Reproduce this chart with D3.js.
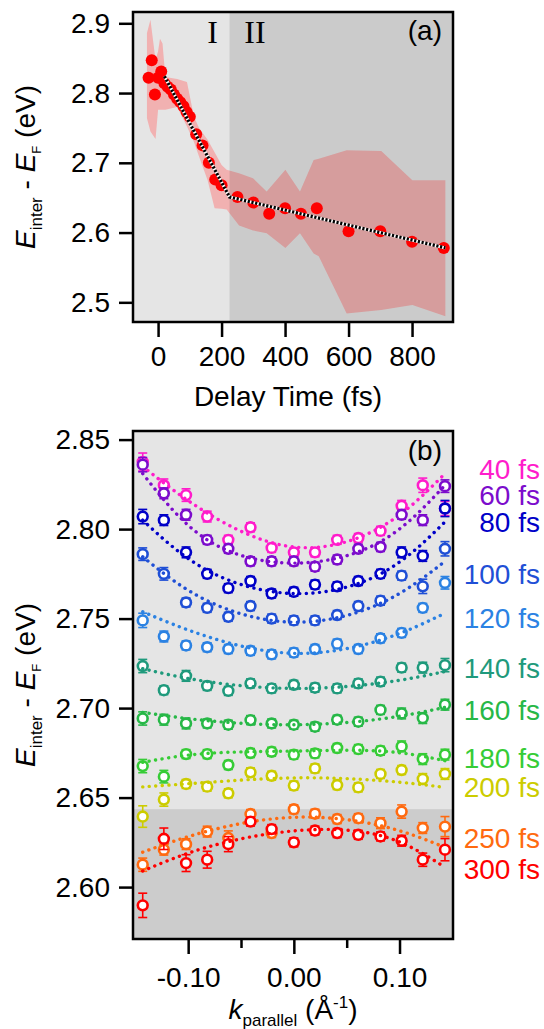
<!DOCTYPE html>
<html>
<head>
<meta charset="utf-8">
<script src="https://cdn.jsdelivr.net/npm/d3@7"></script>
<style>
  html, body { margin: 0; padding: 0; background: #fff; }
  svg { display: block; font-family: "Liberation Sans", Arial, sans-serif; }
</style>
</head>
<body>
<svg id="chart" width="544" height="1029"></svg>
<script>
// ---- panel (a) data ----
const delayT = [-30, -20, -10, 0, 10, 20, 30, 40, 50, 60, 70, 80, 90, 100, 120, 140, 160, 180, 200, 250, 300, 350, 400, 450, 500, 600, 700, 800, 900]
const delayE = [2.822, 2.847, 2.798, 2.822, 2.831, 2.814, 2.809, 2.805, 2.798, 2.792, 2.787, 2.781, 2.773, 2.766, 2.741, 2.725, 2.700, 2.676, 2.668, 2.651, 2.643, 2.627, 2.635, 2.627, 2.635, 2.602, 2.602, 2.587, 2.578]

const bandT  = [-35, -24, -8, 0, 6, 14, 23, 60, 91, 113, 129, 156, 178, 200, 216, 255, 299, 342, 401, 447, 490, 506, 594, 703, 801, 905]
const bandHi = [2.886, 2.905, 2.847, 2.860, 2.878, 2.871, 2.823, 2.820, 2.816, 2.766, 2.750, 2.733, 2.715, 2.697, 2.690, 2.685, 2.678, 2.659, 2.690, 2.659, 2.704, 2.706, 2.718, 2.717, 2.675, 2.675]
const bandLo = [2.764, 2.745, 2.734, 2.776, 2.776, 2.776, 2.776, 2.780, 2.752, 2.730, 2.709, 2.675, 2.635, 2.634, 2.633, 2.610, 2.603, 2.599, 2.578, 2.599, 2.570, 2.566, 2.484, 2.489, 2.496, 2.480]

const fitT = [20, 225, 905]
const fitE = [2.824, 2.651, 2.578]

const regionSplit = 225
const ticksA_x = [0, 200, 400, 600, 800]
const ticksA_y = [2.5, 2.6, 2.7, 2.8, 2.9]

// ---- panel (b) data ----
const kPar = [-0.143, -0.123, -0.102, -0.082, -0.062, -0.041, -0.021, 0.000, 0.020, 0.041, 0.061, 0.082, 0.102, 0.122, 0.143]
const kFit = [-0.143, -0.082, 0, 0.082, 0.143]

const seriesNames = ['40 fs', '60 fs', '80 fs', '100 fs', '120 fs', '140 fs', '160 fs', '180 fs', '200 fs', '250 fs', '300 fs']
const seriesColors = ['#ff1ccb', '#7c0ccc', '#0000c8', '#1f4fd6', '#2b82e3', '#1f9a7c', '#27b847', '#36cc36', '#cccc00', '#ff6a10', '#ff0000']

const e40  = [2.8375, 2.8245, 2.819, 2.807, 2.794, 2.801, 2.7895, 2.787, 2.787, 2.794, 2.795, 2.799, 2.813, 2.8245, 2.8115]
const e60  = [2.836, 2.820, 2.808, 2.794, 2.789, 2.782, 2.782, 2.782, 2.779, 2.783, 2.789, 2.790, 2.808, 2.805, 2.824]
const e80  = [2.807, 2.805, 2.787, 2.775, 2.767, 2.771, 2.764, 2.765, 2.769, 2.768, 2.771, 2.775, 2.787, 2.785, 2.8115]
const e100 = [2.786, 2.775, 2.759, 2.756, 2.751, 2.757, 2.750, 2.749, 2.749, 2.752, 2.757, 2.760, 2.774, 2.768, 2.789]
const e120 = [2.749, 2.740, 2.735, 2.734, 2.733, 2.732, 2.730, 2.731, 2.733, 2.736, 2.733, 2.739, 2.742, 2.756, 2.770]
const e140 = [2.7235, 2.710, 2.718, 2.7124, 2.7096, 2.7138, 2.711, 2.713, 2.7114, 2.711, 2.7138, 2.7148, 2.7226, 2.7226, 2.724]
const e160 = [2.6942, 2.6935, 2.6914, 2.6914, 2.6907, 2.6933, 2.6914, 2.6907, 2.6896, 2.6935, 2.6924, 2.699, 2.697, 2.6944, 2.7019]
const e180 = [2.6676, 2.6617, 2.6743, 2.6743, 2.6682, 2.6749, 2.6756, 2.674, 2.6747, 2.6777, 2.6771, 2.6762, 2.6786, 2.6715, 2.674]
const e200 = [2.6394, 2.6489, 2.6576, 2.6561, 2.6524, 2.6641, 2.6622, 2.6567, 2.6663, 2.657, 2.6557, 2.6632, 2.6654, 2.6604, 2.6632]
const e250 = [2.6125, 2.6209, 2.624, 2.631, 2.6274, 2.6408, 2.6302, 2.6435, 2.641, 2.638, 2.6385, 2.6357, 2.6422, 2.633, 2.6338]
const e300 = [2.5898, 2.627, 2.6134, 2.6153, 2.624, 2.6366, 2.6324, 2.625, 2.6316, 2.6302, 2.6292, 2.6283, 2.6259, 2.6153, 2.6209]

const err40  = [0.005, 0.0035, 0.0035, 0.003, 0.0025, 0.0025, 0.0025, 0.0025, 0.0025, 0.0025, 0.0025, 0.0025, 0.003, 0.004, 0.004]
const err60  = [0.004, 0.003, 0.003, 0.0025, 0.0025, 0.0025, 0.0025, 0.0025, 0.0025, 0.0025, 0.0025, 0.0025, 0.0025, 0.003, 0.0035]
const err80  = [0.004, 0.003, 0.003, 0.0025, 0.0025, 0.0025, 0.0025, 0.0025, 0.0025, 0.0025, 0.0025, 0.0025, 0.003, 0.003, 0.0045]
const err100 = [0.0035, 0.0035, 0.0025, 0.0025, 0.0025, 0.0025, 0.0025, 0.0025, 0.0025, 0.0025, 0.0025, 0.0025, 0.0025, 0.004, 0.004]
const err120 = [0.004, 0.003, 0.0025, 0.0025, 0.0025, 0.0025, 0.0025, 0.0025, 0.0025, 0.0025, 0.0025, 0.0025, 0.0025, 0.0025, 0.0035]
const err140 = [0.0037, 0.0025, 0.003, 0.0025, 0.0025, 0.0025, 0.0025, 0.0025, 0.0025, 0.0025, 0.0025, 0.0025, 0.0025, 0.003, 0.0037]
const err160 = [0.0037, 0.003, 0.003, 0.0025, 0.0025, 0.0025, 0.0025, 0.0025, 0.0025, 0.0025, 0.0025, 0.0025, 0.003, 0.003, 0.003]
const err180 = [0.0037, 0.0035, 0.0025, 0.0025, 0.0025, 0.0025, 0.0025, 0.0025, 0.0025, 0.0025, 0.0025, 0.0025, 0.003, 0.003, 0.003]
const err200 = [0.006, 0.0037, 0.0025, 0.0025, 0.0025, 0.0025, 0.0025, 0.0025, 0.0025, 0.0025, 0.0025, 0.0025, 0.0025, 0.003, 0.003]
const err250 = [0.0037, 0.003, 0.003, 0.003, 0.004, 0.0025, 0.0025, 0.0025, 0.0025, 0.0025, 0.0025, 0.003, 0.0037, 0.003, 0.0056]
const err300 = [0.0068, 0.006, 0.0047, 0.0047, 0.0042, 0.0025, 0.0025, 0.0025, 0.0025, 0.0025, 0.0025, 0.0025, 0.003, 0.0037, 0.0062]

const f40  = [2.835, 2.809, 2.790, 2.801, 2.831]
const f60  = [2.831, 2.794, 2.781, 2.793, 2.8245]
const f80  = [2.805, 2.777, 2.764, 2.775, 2.804]
const f100 = [2.7845, 2.760, 2.748, 2.7585, 2.782]
const f120 = [2.7538, 2.740, 2.7306, 2.738, 2.753]
const f140 = [2.722, 2.7148, 2.711, 2.714, 2.7204]
const f160 = [2.6976, 2.693, 2.6907, 2.6939, 2.7004]
const f180 = [2.6697, 2.6747, 2.676, 2.676, 2.6706]
const f200 = [2.656, 2.6585, 2.661, 2.6595, 2.6557]
const f250 = [2.6195, 2.6312, 2.639, 2.6343, 2.6222]
const f300 = [2.609, 2.6223, 2.6314, 2.6288, 2.6111]

const labelE = [2.8337, 2.8189, 2.8039, 2.7751, 2.7506, 2.7224, 2.6989, 2.6722, 2.656, 2.6275, 2.61]

const energyBoundary = 2.6435
const ticksB_x = [-0.1, 0, 0.1]
const ticksB_xMinor = [-0.05, 0.05]
const ticksB_y = [2.60, 2.65, 2.70, 2.75, 2.80, 2.85]

const energies = [e40, e60, e80, e100, e120, e140, e160, e180, e200, e250, e300]
const errors = [err40, err60, err80, err100, err120, err140, err160, err180, err200, err250, err300]
const fits = [f40, f60, f80, f100, f120, f140, f160, f180, f200, f250, f300]

// ---- drawing ----
const svg = d3.select('#chart')
const fontSize = 28
const lightBg = '#e5e5e5'

const styleAxis = (g) => {
  g.select('.domain').remove()
  g.selectAll('.tick line').attr('stroke', '#000').attr('stroke-width', 2.5)
  g.selectAll('.tick text').attr('font-size', fontSize).attr('fill', '#000')
    .attr('font-family', '"Liberation Sans", Arial, sans-serif')
}

const yTitle = (x, y) => {
  const t = svg.append('text')
    .attr('transform', 'translate(' + x + ',' + y + ') rotate(-90)')
    .attr('text-anchor', 'middle')
    .attr('font-size', fontSize)
  t.append('tspan').attr('font-style', 'italic').text('E')
  t.append('tspan').attr('font-size', 17).attr('dy', 7).text('inter')
  t.append('tspan').attr('dy', -7).text(' - ')
  t.append('tspan').attr('font-style', 'italic').text('E')
  t.append('tspan').attr('font-size', 13).attr('dy', 6).text('F')
  t.append('tspan').attr('dy', -6).text(' (eV)')
}

// Panel (a)
const frameA = { left: 133, right: 453, top: 12, bottom: 322 }
const xA = d3.scaleLinear().domain([-79, 929]).range([frameA.left, frameA.right])
const yA = d3.scaleLinear().domain([2.4718, 2.9162]).range([frameA.bottom, frameA.top])

svg.append('clipPath').attr('id', 'clipA')
  .append('rect')
    .attr('x', frameA.left).attr('y', frameA.top)
    .attr('width', frameA.right - frameA.left).attr('height', frameA.bottom - frameA.top)

const gA = svg.append('g').attr('clip-path', 'url(#clipA)')

gA.append('rect')
  .attr('x', frameA.left).attr('y', frameA.top)
  .attr('width', frameA.right - frameA.left).attr('height', frameA.bottom - frameA.top)
  .attr('fill', lightBg)

const bandData = bandT.map((t, i) => ({ t: t, lo: bandLo[i], hi: bandHi[i] }))
const band = d3.area()
  .x(d => xA(d.t))
  .y0(d => yA(d.lo))
  .y1(d => yA(d.hi))

gA.append('path')
  .attr('d', band(bandData))
  .attr('fill', '#f1b1b1')

gA.append('rect')
  .attr('x', xA(regionSplit)).attr('y', frameA.top)
  .attr('width', frameA.right - xA(regionSplit)).attr('height', frameA.bottom - frameA.top)
  .attr('fill', 'rgba(0,0,0,0.11)')

gA.selectAll('circle.pt')
  .data(delayT.map((t, i) => ({ t: t, e: delayE[i] })))
  .enter()
  .append('circle')
    .attr('class', 'pt')
    .attr('cx', d => xA(d.t))
    .attr('cy', d => yA(d.e))
    .attr('r', 6)
    .attr('fill', '#ff0000')

const fitLineA = d3.line().x(d => xA(d.t)).y(d => yA(d.e))
const fitDataA = fitT.map((t, i) => ({ t: t, e: fitE[i] }))

gA.append('path')
  .attr('d', fitLineA(fitDataA))
  .attr('fill', 'none')
  .attr('stroke', '#fff')
  .attr('stroke-width', 3)
gA.append('path')
  .attr('d', fitLineA(fitDataA))
  .attr('fill', 'none')
  .attr('stroke', '#000')
  .attr('stroke-width', 3.2)
  .attr('stroke-dasharray', '2.2,1.6')

svg.append('text').attr('x', 212.5).attr('y', 43)
  .attr('text-anchor', 'middle')
  .attr('font-family', '"Liberation Serif", "Times New Roman", serif')
  .attr('font-size', 32).text('I')
svg.append('text').attr('x', 255).attr('y', 43)
  .attr('text-anchor', 'middle')
  .attr('font-family', '"Liberation Serif", "Times New Roman", serif')
  .attr('font-size', 32).text('II')
svg.append('text').attr('x', 442).attr('y', 40)
  .attr('text-anchor', 'end').attr('font-size', fontSize).text('(a)')

svg.append('rect')
  .attr('x', frameA.left).attr('y', frameA.top)
  .attr('width', frameA.right - frameA.left).attr('height', frameA.bottom - frameA.top)
  .attr('fill', 'none').attr('stroke', '#000').attr('stroke-width', 2.5)

svg.append('g')
  .attr('transform', 'translate(' + frameA.left + ',0)')
  .call(d3.axisLeft(yA).tickValues(ticksA_y).tickSize(14).tickPadding(9).tickFormat(d3.format('.1f')))
  .call(styleAxis)

svg.append('g')
  .attr('transform', 'translate(0,' + frameA.bottom + ')')
  .call(d3.axisBottom(xA).tickValues(ticksA_x).tickSize(15).tickPadding(9).tickFormat(d3.format('d')))
  .call(styleAxis)

svg.append('text').attr('x', 288).attr('y', 406)
  .attr('text-anchor', 'middle').attr('font-size', fontSize).text('Delay Time (fs)')

yTitle(35, 167)

// Panel (b)
const frameB = { left: 133, right: 453, top: 431, bottom: 939 }
const xB = d3.scaleLinear().domain([-0.1522, 0.1506]).range([frameB.left, frameB.right])
const yB = d3.scaleLinear().domain([2.571, 2.8548]).range([frameB.bottom, frameB.top])

svg.append('clipPath').attr('id', 'clipB')
  .append('rect')
    .attr('x', frameB.left).attr('y', frameB.top)
    .attr('width', frameB.right - frameB.left).attr('height', frameB.bottom - frameB.top)

const gB = svg.append('g').attr('clip-path', 'url(#clipB)')

gB.append('rect')
  .attr('x', frameB.left).attr('y', frameB.top)
  .attr('width', frameB.right - frameB.left).attr('height', frameB.bottom - frameB.top)
  .attr('fill', lightBg)
gB.append('rect')
  .attr('x', frameB.left).attr('y', yB(energyBoundary))
  .attr('width', frameB.right - frameB.left).attr('height', frameB.bottom - yB(energyBoundary))
  .attr('fill', '#cccccc')

const fitLineB = d3.line()
  .x(d => xB(d.k))
  .y(d => yB(d.e))
  .curve(d3.curveNatural)

seriesNames.forEach((name, s) => {
  const color = seriesColors[s]
  const pts = kPar.map((k, i) => ({ k: k, e: energies[s][i], err: errors[s][i] }))
  const g = gB.append('g')

  const bars = g.selectAll('g.eb').data(pts).enter().append('g').attr('class', 'eb')
  bars.append('line')
    .attr('x1', d => xB(d.k)).attr('x2', d => xB(d.k))
    .attr('y1', d => yB(d.e - d.err)).attr('y2', d => yB(d.e + d.err))
  bars.append('line')
    .attr('x1', d => xB(d.k) - 4.5).attr('x2', d => xB(d.k) + 4.5)
    .attr('y1', d => yB(d.e - d.err)).attr('y2', d => yB(d.e - d.err))
  bars.append('line')
    .attr('x1', d => xB(d.k) - 4.5).attr('x2', d => xB(d.k) + 4.5)
    .attr('y1', d => yB(d.e + d.err)).attr('y2', d => yB(d.e + d.err))
  bars.selectAll('line').attr('stroke', color).attr('stroke-width', 1.6)

  g.selectAll('circle').data(pts).enter().append('circle')
    .attr('cx', d => xB(d.k))
    .attr('cy', d => yB(d.e))
    .attr('r', 4.9)
    .attr('fill', '#fff')
    .attr('stroke', color)
    .attr('stroke-width', 2.6)

  g.append('path')
    .attr('d', fitLineB(kFit.map((k, i) => ({ k: k, e: fits[s][i] }))))
    .attr('fill', 'none')
    .attr('stroke', color)
    .attr('stroke-width', 3.4)
    .attr('stroke-linecap', 'round')
    .attr('stroke-dasharray', '0.1,6.5')

  svg.append('text')
    .attr('x', 540)
    .attr('y', yB(labelE[s]))
    .attr('dy', '0.36em')
    .attr('text-anchor', 'end')
    .attr('font-size', fontSize)
    .attr('fill', color)
    .text(name)
})

svg.append('text').attr('x', 442).attr('y', 460)
  .attr('text-anchor', 'end').attr('font-size', fontSize).text('(b)')

svg.append('rect')
  .attr('x', frameB.left).attr('y', frameB.top)
  .attr('width', frameB.right - frameB.left).attr('height', frameB.bottom - frameB.top)
  .attr('fill', 'none').attr('stroke', '#000').attr('stroke-width', 2.5)

svg.append('g')
  .attr('transform', 'translate(' + frameB.left + ',0)')
  .call(d3.axisLeft(yB).tickValues(ticksB_y).tickSize(14).tickPadding(9).tickFormat(d3.format('.2f')))
  .call(styleAxis)

const hyphen = d => d3.format('.2f')(d).replace('\u2212', '-')

svg.append('g')
  .attr('transform', 'translate(0,' + frameB.bottom + ')')
  .call(d3.axisBottom(xB).tickValues(ticksB_x).tickSize(15).tickPadding(13).tickFormat(hyphen))
  .call(styleAxis)

svg.append('g')
  .attr('transform', 'translate(0,' + frameB.bottom + ')')
  .call(d3.axisBottom(xB).tickValues(ticksB_xMinor).tickSize(9).tickFormat(''))
  .call(styleAxis)

const kTitle = svg.append('text')
  .attr('x', 293).attr('y', 1019)
  .attr('text-anchor', 'middle')
  .attr('font-size', fontSize)
kTitle.append('tspan').attr('font-style', 'italic').text('k')
kTitle.append('tspan').attr('font-size', 17).attr('dy', 7).text('parallel')
kTitle.append('tspan').attr('dy', -7).text(' (\u00c5')
kTitle.append('tspan').attr('font-size', 17).attr('dy', -11).text('-1')
kTitle.append('tspan').attr('dy', 11).text(')')

yTitle(35, 685)
</script>
</body>
</html>
